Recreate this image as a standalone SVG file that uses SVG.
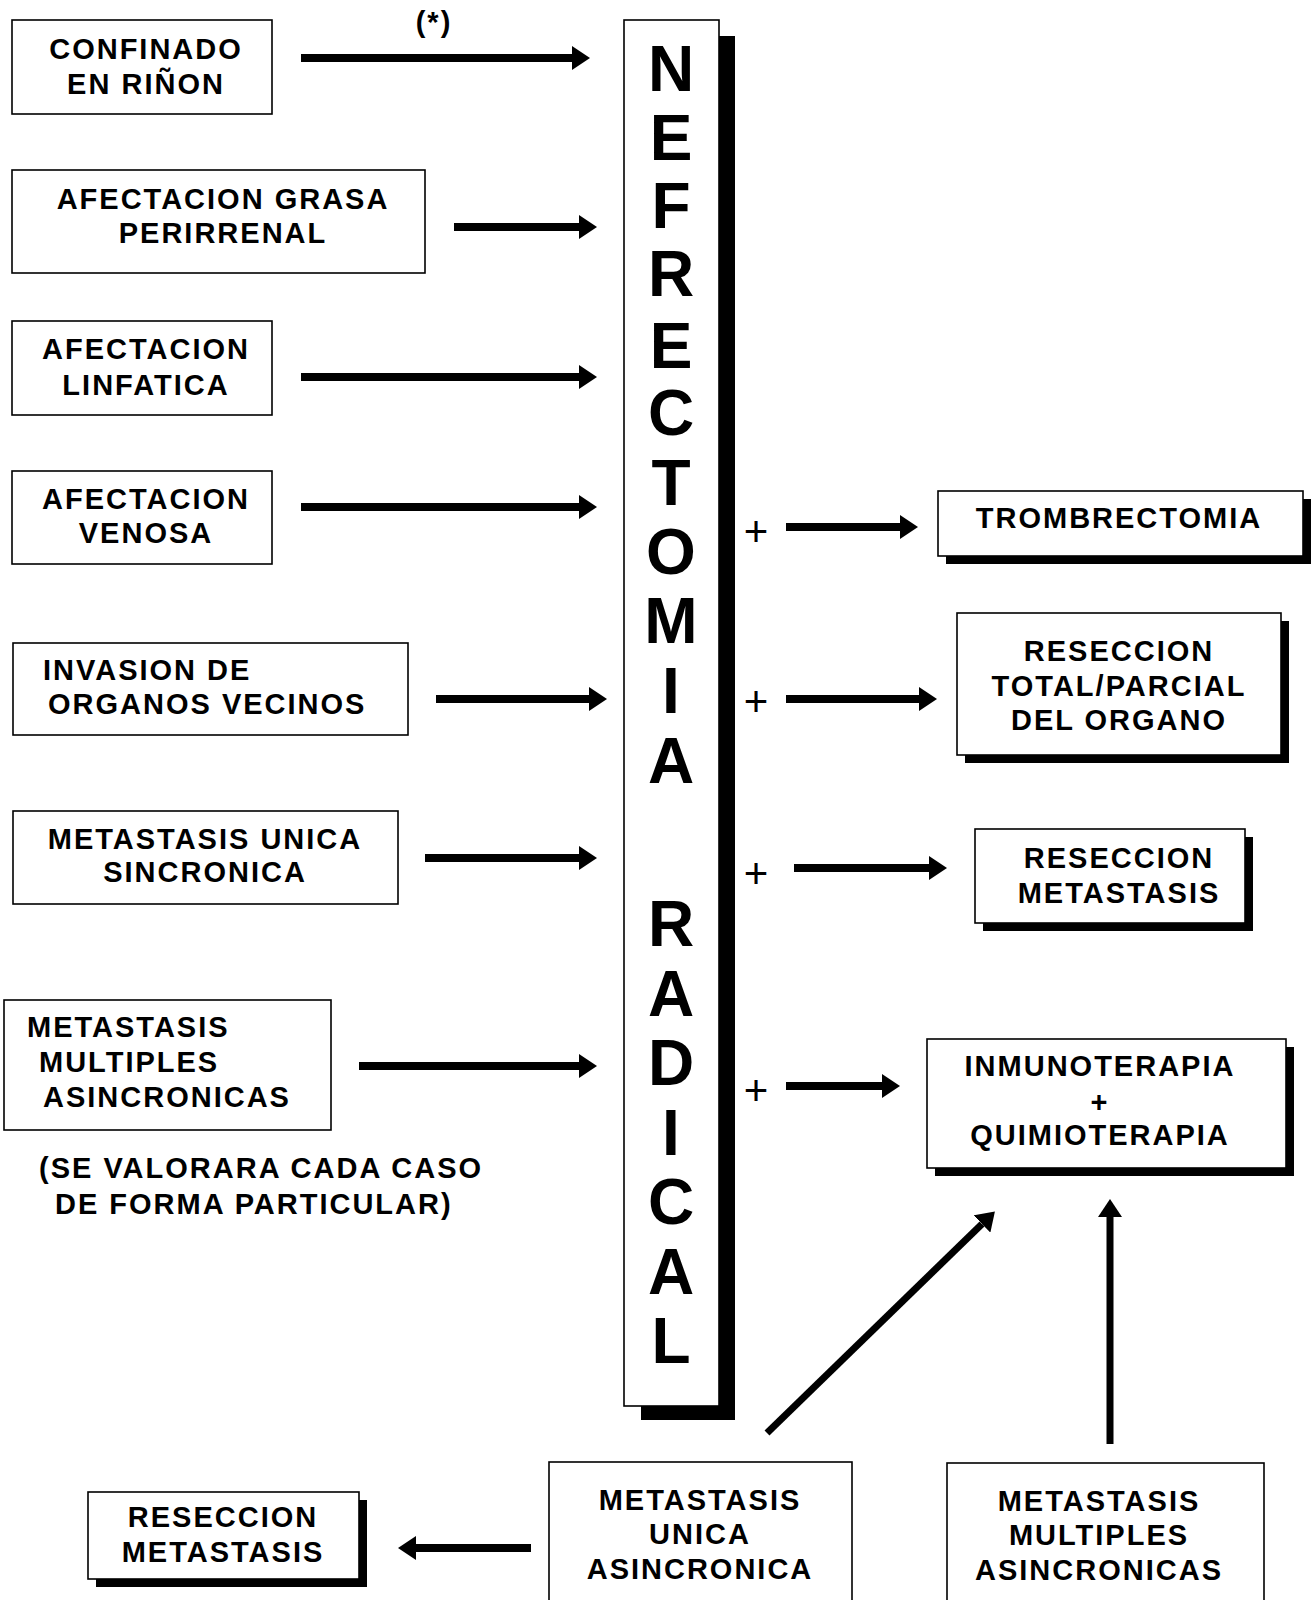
<svg xmlns="http://www.w3.org/2000/svg" width="1312" height="1600" viewBox="0 0 1312 1600">
  <style>
    .box { fill: #fff; stroke: #000; stroke-width: 1.6; }
    .shadow { fill: #000; }
    .t { font-family: "Liberation Sans", Arial, sans-serif; font-weight: bold; font-size: 29px; letter-spacing: 2px; fill: #000; }
    .c { text-anchor: middle; }
    .big { font-family: "Liberation Sans", Arial, sans-serif; font-weight: bold; font-size: 64px; fill: #000; text-anchor: middle; }
    .plus { font-family: "Liberation Sans", Arial, sans-serif; font-weight: normal; font-size: 42px; fill: #000; text-anchor: middle; }
    .arrow { stroke: #000; stroke-width: 8; fill: none; marker-end: url(#head); }
    .arrow-thin { stroke: #000; stroke-width: 7; fill: none; marker-end: url(#head); }
  </style>
  <defs>
    <marker id="head" markerUnits="userSpaceOnUse" viewBox="0 -12 18 24" refX="0" refY="0" markerWidth="18" markerHeight="24" orient="auto">
      <path d="M0,-12 L18,0 L0,12 Z" fill="#000"/>
    </marker>
  </defs>
  <rect width="1312" height="1600" fill="#fff"/>

  <!-- left column: stages -->
  <g id="confinado">
    <rect class="box" x="12" y="20" width="260" height="94"/>
    <text class="t c" x="146" y="59">CONFINADO</text>
    <text class="t c" x="146" y="94">EN RIÑON</text>
  </g>
  <text class="t c" x="434" y="32">(*)</text>

  <g id="grasa">
    <rect class="box" x="12" y="170" width="413" height="103"/>
    <text class="t c" x="223" y="209">AFECTACION GRASA</text>
    <text class="t c" x="223" y="243">PERIRRENAL</text>
  </g>

  <g id="linfatica">
    <rect class="box" x="12" y="321" width="260" height="94"/>
    <text class="t c" x="146" y="359">AFECTACION</text>
    <text class="t c" x="146" y="395">LINFATICA</text>
  </g>

  <g id="venosa">
    <rect class="box" x="12" y="471" width="260" height="93"/>
    <text class="t c" x="146" y="509">AFECTACION</text>
    <text class="t c" x="146" y="543">VENOSA</text>
  </g>

  <g id="invasion">
    <rect class="box" x="13" y="643" width="395" height="92"/>
    <text class="t" x="43" y="680">INVASION DE</text>
    <text class="t" x="48" y="714">ORGANOS VECINOS</text>
  </g>

  <g id="meta-unica-sincronica">
    <rect class="box" x="13" y="811" width="385" height="93"/>
    <text class="t c" x="205" y="849">METASTASIS UNICA</text>
    <text class="t c" x="205" y="882">SINCRONICA</text>
  </g>

  <g id="meta-multiples">
    <rect class="box" x="4" y="1000" width="327" height="130"/>
    <text class="t" x="27" y="1037">METASTASIS</text>
    <text class="t" x="39" y="1072">MULTIPLES</text>
    <text class="t" x="43" y="1107">ASINCRONICAS</text>
  </g>
  <g id="nota">
    <text class="t" x="39" y="1178">(SE VALORARA CADA CASO</text>
    <text class="t" x="55" y="1214">DE FORMA PARTICULAR)</text>
  </g>

  <!-- central column -->
  <g id="nefrectomia">
    <rect class="shadow" x="719" y="36" width="16" height="1384"/>
    <rect class="shadow" x="641" y="1406" width="94" height="14"/>
    <rect class="box" x="624" y="20" width="95" height="1386"/>
    <text class="big" x="671" y="91">N</text>
    <text class="big" x="671" y="160">E</text>
    <text class="big" x="671" y="228">F</text>
    <text class="big" x="671" y="296">R</text>
    <text class="big" x="671" y="368">E</text>
    <text class="big" x="671" y="435">C</text>
    <text class="big" x="671" y="505">T</text>
    <text class="big" x="671" y="574">O</text>
    <text class="big" x="671" y="643">M</text>
    <text class="big" x="671" y="713">I</text>
    <text class="big" x="671" y="783">A</text>
    <text class="big" x="671" y="946">R</text>
    <text class="big" x="671" y="1016">A</text>
    <text class="big" x="671" y="1085">D</text>
    <text class="big" x="671" y="1155">I</text>
    <text class="big" x="671" y="1224">C</text>
    <text class="big" x="671" y="1294">A</text>
    <text class="big" x="671" y="1363">L</text>
  </g>

  <!-- right column: added procedures -->
  <g id="trombectomia">
    <rect class="shadow" x="946" y="499" width="365" height="65"/>
    <rect class="box" x="938" y="491" width="365" height="65"/>
    <text class="t c" x="1119" y="528">TROMBRECTOMIA</text>
  </g>

  <g id="reseccion-organo">
    <rect class="shadow" x="965" y="621" width="324" height="142"/>
    <rect class="box" x="957" y="613" width="324" height="142"/>
    <text class="t c" x="1119" y="661">RESECCION</text>
    <text class="t c" x="1119" y="696">TOTAL/PARCIAL</text>
    <text class="t c" x="1119" y="730">DEL ORGANO</text>
  </g>

  <g id="reseccion-metastasis">
    <rect class="shadow" x="983" y="837" width="270" height="94"/>
    <rect class="box" x="975" y="829" width="270" height="94"/>
    <text class="t c" x="1119" y="868">RESECCION</text>
    <text class="t c" x="1119" y="903">METASTASIS</text>
  </g>

  <g id="inmunoterapia">
    <rect class="shadow" x="935" y="1047" width="359" height="129"/>
    <rect class="box" x="927" y="1039" width="359" height="129"/>
    <text class="t c" x="1100" y="1076">INMUNOTERAPIA</text>
    <text class="t c" x="1100" y="1112">+</text>
    <text class="t c" x="1100" y="1145">QUIMIOTERAPIA</text>
  </g>

  <!-- bottom row: asynchronous metastases -->
  <g id="meta-unica-asincronica">
    <rect class="box" x="549" y="1462" width="303" height="150"/>
    <text class="t c" x="700" y="1510">METASTASIS</text>
    <text class="t c" x="700" y="1544">UNICA</text>
    <text class="t c" x="700" y="1579">ASINCRONICA</text>
  </g>

  <g id="meta-multiples-asincronicas">
    <rect class="box" x="947" y="1463" width="317" height="150"/>
    <text class="t c" x="1099" y="1511">METASTASIS</text>
    <text class="t c" x="1099" y="1545">MULTIPLES</text>
    <text class="t c" x="1099" y="1580">ASINCRONICAS</text>
  </g>

  <g id="reseccion-metastasis-2">
    <rect class="shadow" x="96" y="1500" width="271" height="87"/>
    <rect class="box" x="88" y="1492" width="271" height="87"/>
    <text class="t c" x="223" y="1527">RESECCION</text>
    <text class="t c" x="223" y="1562">METASTASIS</text>
  </g>

  <!-- connectors -->
  <g id="connectors">
    <line class="arrow" x1="301" y1="58" x2="572" y2="58"/>
    <line class="arrow" x1="454" y1="227" x2="579" y2="227"/>
    <line class="arrow" x1="301" y1="377" x2="579" y2="377"/>
    <line class="arrow" x1="301" y1="507" x2="579" y2="507"/>
    <line class="arrow" x1="436" y1="699" x2="589" y2="699"/>
    <line class="arrow" x1="425" y1="858" x2="579" y2="858"/>
    <line class="arrow" x1="359" y1="1066" x2="579" y2="1066"/>

    <text class="plus" x="756" y="546">+</text>
    <line class="arrow" x1="786" y1="527" x2="900" y2="527"/>
    <text class="plus" x="756" y="716">+</text>
    <line class="arrow" x1="786" y1="699" x2="919" y2="699"/>
    <text class="plus" x="756" y="888">+</text>
    <line class="arrow" x1="794" y1="868" x2="929" y2="868"/>
    <text class="plus" x="756" y="1105">+</text>
    <line class="arrow" x1="786" y1="1086" x2="882" y2="1086"/>

    <line class="arrow-thin" x1="767" y1="1433" x2="982" y2="1224"/>
    <line class="arrow-thin" x1="1110" y1="1444" x2="1110" y2="1217"/>
    <line class="arrow" x1="531" y1="1548" x2="416" y2="1548"/>
  </g>
</svg>
